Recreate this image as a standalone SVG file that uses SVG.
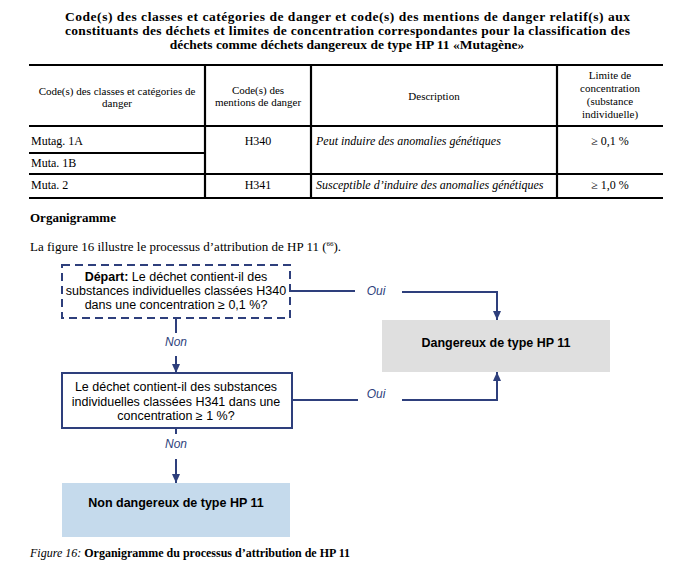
<svg xmlns="http://www.w3.org/2000/svg" width="680" height="566" viewBox="0 0 680 566">
<defs>
<marker id="arr" markerWidth="9" markerHeight="8" refX="9" refY="4" orient="auto" markerUnits="userSpaceOnUse" viewBox="0 0 9 8">
<path d="M0,0 L9,4 L0,8 Z" fill="#2E3F7C"/>
</marker>
<style>
.serif{font-family:"Liberation Serif","Times New Roman",serif;fill:#000}
.title{font-size:13.5px;font-weight:bold}
.th{font-size:11px}
.td{font-size:12px}
.it{font-style:italic}
.sans{font-family:"Liberation Sans",Arial,sans-serif;fill:#000;font-size:12.5px}
.lbl{font-family:"Liberation Sans",Arial,sans-serif;fill:#2E3F7C;font-size:12px;font-style:italic}
.rule{stroke:#000;stroke-width:2.2;fill:none}
.conn{stroke:#2E3F7C;stroke-width:2;fill:none}
</style>
</defs>
<rect width="680" height="566" fill="#fff"/>

<g id="title" class="serif title">
<text x="65" y="21" textLength="565" lengthAdjust="spacing">Code(s) des classes et catégories de danger et code(s) des mentions de danger relatif(s) aux</text>
<text x="65" y="35" textLength="565" lengthAdjust="spacing">constituants des déchets et limites de concentration correspondantes pour la classification des</text>
<text x="347" y="49" text-anchor="middle">déchets comme déchets dangereux de type HP 11 «Mutagène»</text>
</g>

<g id="table">
<line class="rule" x1="29" y1="65" x2="663" y2="65"/>
<line class="rule" x1="29" y1="126" x2="663" y2="126"/>
<line class="rule" x1="29" y1="153" x2="205" y2="153"/>
<line class="rule" x1="29" y1="174" x2="663" y2="174"/>
<line class="rule" x1="29" y1="198" x2="663" y2="198"/>
<line class="rule" x1="205" y1="65" x2="205" y2="198"/>
<line class="rule" x1="311" y1="65" x2="311" y2="198"/>
<line class="rule" x1="557" y1="65" x2="557" y2="198"/>
<g class="serif th" text-anchor="middle">
<text x="117" y="95">Code(s) des classes et catégories de</text>
<text x="117" y="107">danger</text>
<text x="258" y="94">Code(s) des</text>
<text x="258" y="106">mentions de danger</text>
<text x="434" y="100">Description</text>
<text x="610" y="79">Limite de</text>
<text x="610" y="92">concentration</text>
<text x="610" y="105">(substance</text>
<text x="610" y="118">individuelle)</text>
</g>
<g class="serif td">
<text x="31" y="145">Mutag. 1A</text>
<text x="31" y="167">Muta. 1B</text>
<text x="31" y="189">Muta. 2</text>
<text x="258" y="145" text-anchor="middle">H340</text>
<text x="258" y="189" text-anchor="middle">H341</text>
<text class="it" x="316" y="145">Peut induire des anomalies génétiques</text>
<text class="it" x="316" y="189">Susceptible d’induire des anomalies génétiques</text>
<text x="610" y="145" text-anchor="middle">≥ 0,1 %</text>
<text x="610" y="189" text-anchor="middle">≥ 1,0 %</text>
</g>
</g>

<g id="intro" class="serif">
<text x="30" y="222" font-size="13" font-weight="bold">Organigramme</text>
<text x="30" y="251" font-size="13">La figure 16 illustre le processus d’attribution de HP 11 (<tspan font-size="7" dy="-5">66</tspan><tspan dy="5">).</tspan></text>
</g>

<g id="connectors">
<path class="conn" d="M290,291 H355"/>
<path class="conn" d="M402,292 H497 V320" marker-end="url(#arr)"/>
<path class="conn" d="M292,400 H358"/>
<path class="conn" d="M402,400 H497 V372" marker-end="url(#arr)"/>
<path class="conn" d="M176,318 V333"/>
<path class="conn" d="M176,356 V373" marker-end="url(#arr)"/>
<path class="conn" d="M176,428 V434"/>
<path class="conn" d="M176,459 V483" marker-end="url(#arr)"/>
<text class="lbl" x="376" y="295" text-anchor="middle">Oui</text>
<text class="lbl" x="376" y="398" text-anchor="middle">Oui</text>
<text class="lbl" x="176" y="346" text-anchor="middle">Non</text>
<text class="lbl" x="176" y="448" text-anchor="middle">Non</text>
</g>

<g id="start">
<rect x="62" y="265" width="228" height="53" fill="#fff" stroke="#2E3F7C" stroke-width="2" stroke-dasharray="8,5"/>
<text class="sans" x="176" y="281" text-anchor="middle"><tspan font-weight="bold">Départ:</tspan> Le déchet contient-il des</text>
<text class="sans" x="176" y="295" text-anchor="middle">substances individuelles classées H340</text>
<text class="sans" x="176" y="309" text-anchor="middle">dans une concentration ≥ 0,1 %?</text>
</g>

<g id="q2">
<rect x="62" y="373" width="230" height="55" fill="#fff" stroke="#2E3F7C" stroke-width="2"/>
<text class="sans" x="176" y="391" text-anchor="middle">Le déchet contient-il des substances</text>
<text class="sans" x="176" y="406" text-anchor="middle">individuelles classées H341 dans une</text>
<text class="sans" x="176" y="420" text-anchor="middle">concentration ≥ 1 %?</text>
</g>

<g id="dangerous">
<rect x="382" y="320" width="228" height="52" fill="#DFDFDF"/>
<text class="sans" x="496" y="347" text-anchor="middle" font-weight="bold">Dangereux de type HP 11</text>
</g>

<g id="nondangerous">
<rect x="62" y="483" width="228" height="54" fill="#C5DAEC"/>
<text class="sans" x="176" y="507" text-anchor="middle" font-weight="bold">Non dangereux de type HP 11</text>
</g>

<g id="caption" class="serif">
<text x="30" y="557" font-size="12"><tspan font-style="italic">Figure 16:</tspan>  <tspan font-weight="bold">Organigramme du processus d’attribution de HP 11</tspan></text>
</g>
</svg>
